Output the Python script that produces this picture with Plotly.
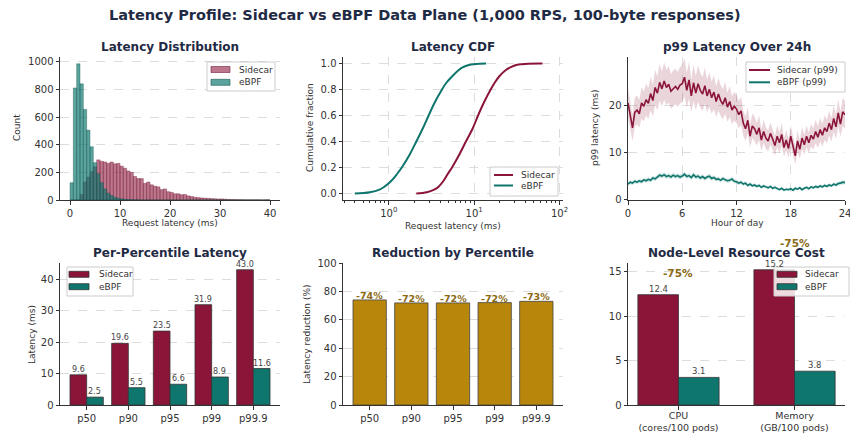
import plotly.graph_objects as go

W, H = 850, 434
FONT = "DejaVu Sans"
SIDE = "#8B1538"
EBPF = "#0F766E"
GOLD = "#B8860B"
GOLD_TXT = "#8B6914"
TITLE_C = "#1f2a44"
TXT = "#333333"
GRID = "#dcdcdc"
SIDE_HIST = "rgba(139,21,56,0.58)"
EBPF_HIST = "rgba(15,118,110,0.68)"

# ---------------- data ----------------
hist_lo, hist_hi, hist_nbins = 0.0, 40.0, 60
sidecar_counts = [0, 0, 2, 40, 130, 165, 205, 240, 290, 280,
                  275, 265, 275, 262, 265, 245, 230, 210, 200, 170,
                  155, 155, 120, 130, 110, 100, 95, 75, 80, 60,
                  55, 45, 45, 38, 40, 30, 25, 20, 17, 15,
                  13, 12, 10, 9, 7, 8, 6, 4, 3, 3,
                  2, 2, 1, 1, 1, 1, 1, 0, 1, 1]
ebpf_counts = [125, 810, 985, 840, 655, 505, 385, 270, 190, 125,
               80, 50, 32, 20, 12, 8, 5, 3, 2, 1,
               1, 0, 0, 0, 0, 0, 0, 0, 0, 0,
               0, 0, 0, 0, 0, 0, 0, 0, 0, 0,
               0, 0, 0, 0, 0, 0, 0, 0, 0, 0,
               0, 0, 0, 0, 0, 0, 0, 0, 0, 0]

cdf_fraction = [0, 0.01, 0.03, 0.05, 0.1, 0.15, 0.2, 0.3, 0.4, 0.5, 0.6,
                0.7, 0.8, 0.85, 0.9, 0.95, 0.97, 0.99, 0.995, 0.999, 1.0]
cdf_sidecar_ms = [2.1, 2.8, 3.4, 3.8, 4.4, 4.9, 5.5, 6.7, 8.0, 9.6, 11.1,
                  13.0, 15.6, 17.3, 19.6, 23.5, 26.5, 31.9, 36.0, 43.0, 63.0]
cdf_ebpf_ms = [0.40, 0.60, 0.78, 0.88, 1.08, 1.25, 1.42, 1.76, 2.10, 2.50, 2.93,
               3.45, 4.20, 4.70, 5.50, 6.60, 7.30, 8.90, 9.80, 11.6, 13.8]

hour_step = 0.25
sidecar_p99 = [20.5, 17.8, 15.2, 18.5, 19.0, 18.2, 20.5, 19.8,
               21.2, 20.4, 22.5, 21.0, 23.8, 22.6, 24.9, 23.5,
               25.2, 23.8, 24.5, 23.0, 23.6, 24.0, 23.4, 24.3,
               24.6, 26.0, 23.2, 25.4, 22.0, 24.8, 22.6, 24.6,
               23.2, 22.4, 24.2, 22.0, 23.4, 21.6, 22.8, 20.8,
               22.4, 21.0, 20.2, 21.6, 19.6, 20.8, 19.0, 19.8,
               19.2, 18.0, 18.8, 16.2, 15.0, 16.8, 13.4, 15.6,
               15.0, 13.8, 15.2, 12.6, 14.4, 13.0, 12.4, 14.0,
               12.8, 11.4, 13.4, 12.0, 13.8, 11.0, 12.6, 10.8,
               13.4, 11.6, 9.2, 12.4, 10.6, 13.0, 11.6, 13.4,
               12.0, 13.6, 12.8, 14.4, 13.2, 14.8, 13.6, 15.2,
               14.4, 16.2, 14.8, 17.2, 15.4, 18.4, 16.0, 18.6,
               18.0]
sidecar_band = [3.2, 3.0, 2.8, 3.1, 3.1, 3.0, 3.3, 3.2,
                3.4, 3.3, 3.6, 3.4, 3.8, 3.6, 3.9, 3.7,
                4.0, 3.8, 3.9, 3.7, 3.8, 3.8, 3.7, 3.9,
                3.9, 4.1, 3.7, 4.0, 3.5, 3.9, 3.6, 3.9,
                3.7, 3.6, 3.8, 3.5, 3.7, 3.4, 3.6, 3.3,
                3.5, 3.3, 3.2, 3.4, 3.1, 3.3, 3.0, 3.1,
                3.0, 2.9, 3.0, 2.7, 2.6, 2.8, 2.4, 2.6,
                2.6, 2.4, 2.6, 2.3, 2.5, 2.3, 2.2, 2.4,
                2.3, 2.1, 2.3, 2.2, 2.4, 2.0, 2.2, 2.0,
                2.3, 2.1, 1.9, 2.2, 2.0, 2.3, 2.1, 2.3,
                2.2, 2.4, 2.3, 2.5, 2.3, 2.5, 2.4, 2.6,
                2.5, 2.7, 2.5, 2.8, 2.6, 2.9, 2.7, 3.0,
                2.9]
ebpf_p99 = [3.2, 3.6, 3.4, 3.8, 3.6, 3.9, 3.7, 4.1,
            3.9, 4.2, 4.0, 4.5, 4.3, 4.8, 5.1, 4.9,
            5.2, 4.8, 5.0, 4.7, 5.1, 4.8, 5.0, 4.7,
            4.9, 5.3, 4.8, 5.0, 4.6, 5.2, 4.7, 4.9,
            4.5, 4.8, 4.4, 4.7, 4.9, 4.4, 4.6, 4.2,
            4.3, 4.0, 4.4, 4.1, 3.9, 4.0, 4.3, 3.8,
            3.7, 3.4, 3.6, 3.2, 3.4, 2.9, 3.2, 2.8,
            3.0, 2.7, 2.9, 2.5, 2.8, 2.6, 2.4, 2.7,
            2.3, 2.5, 2.2, 2.0, 2.3, 1.9, 2.1, 2.0,
            2.2, 1.9, 2.3, 2.1, 2.4, 2.0, 2.3, 2.5,
            2.2, 2.6, 2.4, 2.7, 2.5, 2.8, 2.6, 2.9,
            2.7, 3.0, 2.8, 3.2, 3.0, 3.3, 3.4, 3.6,
            3.5]
ebpf_band = [0.40, 0.42, 0.41, 0.44, 0.42, 0.45, 0.43, 0.46,
             0.44, 0.46, 0.45, 0.48, 0.47, 0.50, 0.52, 0.51,
             0.53, 0.50, 0.52, 0.49, 0.52, 0.50, 0.51, 0.49,
             0.51, 0.54, 0.50, 0.52, 0.48, 0.53, 0.49, 0.51,
             0.48, 0.50, 0.47, 0.49, 0.51, 0.47, 0.48, 0.45,
             0.46, 0.44, 0.47, 0.45, 0.43, 0.44, 0.46, 0.42,
             0.41, 0.39, 0.40, 0.37, 0.39, 0.35, 0.37, 0.34,
             0.36, 0.33, 0.35, 0.32, 0.34, 0.33, 0.31, 0.33,
             0.30, 0.32, 0.29, 0.28, 0.30, 0.27, 0.29, 0.28,
             0.29, 0.27, 0.30, 0.28, 0.31, 0.28, 0.30, 0.32,
             0.29, 0.32, 0.31, 0.33, 0.32, 0.34, 0.33, 0.35,
             0.34, 0.36, 0.35, 0.38, 0.36, 0.39, 0.40, 0.42,
             0.41]

percentiles = ["p50", "p90", "p95", "p99", "p99.9"]
pct_sidecar = [9.6, 19.6, 23.5, 31.9, 43.0]
pct_ebpf = [2.5, 5.5, 6.6, 8.9, 11.6]
reduction_pct = [74.0, 71.9, 71.9, 72.1, 73.0]

resources = ["CPU<br>(cores/100 pods)", "Memory<br>(GB/100 pods)"]
res_sidecar = [12.4, 15.2]
res_ebpf = [3.1, 3.8]
res_reduction = [75, 75]

# ---------------- helpers ----------------
def fx(px):
    return px / W

def fy(py):
    return 1 - py / H

COLS = [(60, 280), (343, 563), (628, 845)]
ROWS = [(57, 200), (263, 405)]

def xdom(c):
    return [fx(COLS[c][0]), fx(COLS[c][1])]

def ydom(r):
    return [fy(ROWS[r][1]), fy(ROWS[r][0])]

def axis(**kw):
    d = dict(showline=True, linecolor=TXT, linewidth=1, ticks="outside", ticklen=3.5,
             tickwidth=1, tickcolor=TXT, tickfont=dict(family=FONT, size=10, color=TXT),
             showgrid=False, zeroline=False, gridcolor=GRID, griddash="dash", gridwidth=0.7,
             automargin=False, mirror=False, ticklabeloverflow="allow")
    d.update(kw)
    return d

fig = go.Figure()

# ---- panel 1: histogram ----
bw = (hist_hi - hist_lo) / hist_nbins
centers = [hist_lo + bw * (i + 0.5) for i in range(len(sidecar_counts))]
fig.add_trace(go.Bar(x=centers, y=sidecar_counts, width=bw, offset=-bw / 2, name="Sidecar",
                     marker=dict(color=SIDE_HIST, line=dict(color="rgba(110,20,50,0.7)", width=0.5)),
                     xaxis="x", yaxis="y"))
fig.add_trace(go.Bar(x=centers[:len(ebpf_counts)], y=ebpf_counts, width=bw, offset=-bw / 2, name="eBPF",
                     marker=dict(color=EBPF_HIST, line=dict(color="rgba(10,80,75,0.7)", width=0.5)),
                     xaxis="x", yaxis="y"))

# ---- panel 2: CDF ----
fig.add_trace(go.Scatter(x=cdf_sidecar_ms, y=cdf_fraction, mode="lines", name="Sidecar",
                         line=dict(color=SIDE, width=2, shape="spline"), xaxis="x2", yaxis="y2"))
fig.add_trace(go.Scatter(x=cdf_ebpf_ms, y=cdf_fraction, mode="lines", name="eBPF",
                         line=dict(color=EBPF, width=2, shape="spline"), xaxis="x2", yaxis="y2"))

# ---- panel 3: time series ----
hours = [i * hour_step for i in range(len(sidecar_p99))]
s_hi = [v + b for v, b in zip(sidecar_p99, sidecar_band)]
s_lo = [v - b for v, b in zip(sidecar_p99, sidecar_band)]
e_hi = [v + b for v, b in zip(ebpf_p99, ebpf_band)]
e_lo = [v - b for v, b in zip(ebpf_p99, ebpf_band)]
fig.add_trace(go.Scatter(x=hours, y=s_hi, mode="lines", line=dict(width=0),
                         hoverinfo="skip", xaxis="x3", yaxis="y3"))
fig.add_trace(go.Scatter(x=hours, y=s_lo, mode="lines", line=dict(width=0), fill="tonexty",
                         fillcolor="rgba(139,21,56,0.18)", hoverinfo="skip", xaxis="x3", yaxis="y3"))
fig.add_trace(go.Scatter(x=hours, y=e_hi, mode="lines", line=dict(width=0),
                         hoverinfo="skip", xaxis="x3", yaxis="y3"))
fig.add_trace(go.Scatter(x=hours, y=e_lo, mode="lines", line=dict(width=0), fill="tonexty",
                         fillcolor="rgba(15,118,110,0.2)", hoverinfo="skip", xaxis="x3", yaxis="y3"))
fig.add_trace(go.Scatter(x=hours, y=sidecar_p99, mode="lines", name="Sidecar (p99)",
                         line=dict(color=SIDE, width=1.6), xaxis="x3", yaxis="y3"))
fig.add_trace(go.Scatter(x=hours, y=ebpf_p99, mode="lines", name="eBPF (p99)",
                         line=dict(color=EBPF, width=1.6), xaxis="x3", yaxis="y3"))

# ---- panel 4: per-percentile ----
fig.add_trace(go.Bar(x=percentiles, y=pct_sidecar, width=0.4, offset=-0.4, name="Sidecar",
                     marker=dict(color=SIDE, line=dict(color="#333", width=0.8)), xaxis="x4", yaxis="y4"))
fig.add_trace(go.Bar(x=percentiles, y=pct_ebpf, width=0.4, offset=0.0, name="eBPF",
                     marker=dict(color=EBPF, line=dict(color="#333", width=0.8)), xaxis="x4", yaxis="y4"))

# ---- panel 5: reduction ----
fig.add_trace(go.Bar(x=percentiles, y=reduction_pct, width=0.8, offset=-0.4, name="Reduction",
                     marker=dict(color=GOLD, line=dict(color="#444", width=0.8)), xaxis="x5", yaxis="y5"))

# ---- panel 6: resources ----
fig.add_trace(go.Bar(x=resources, y=res_sidecar, width=0.35, offset=-0.35, name="Sidecar",
                     marker=dict(color=SIDE, line=dict(color="#333", width=0.8)), xaxis="x6", yaxis="y6"))
fig.add_trace(go.Bar(x=resources, y=res_ebpf, width=0.35, offset=0.0, name="eBPF",
                     marker=dict(color=EBPF, line=dict(color="#333", width=0.8)), xaxis="x6", yaxis="y6"))

# ---------------- annotations ----------------
ann = []
shapes = []

def text(x, y, s, size=9, color=TXT, bold=False, angle=0, xanchor="center", yanchor="middle"):
    ann.append(dict(x=fx(x), y=fy(y), xref="paper", yref="paper", text=("<b>%s</b>" % s) if bold else s,
                    showarrow=False, textangle=angle, xanchor=xanchor, yanchor=yanchor,
                    font=dict(family=FONT, size=size, color=color)))

text(425, 15, "Latency Profile: Sidecar vs eBPF Data Plane (1,000 RPS, 100-byte responses)", size=14.5,
     color=TITLE_C, bold=True)
titles_top = ["Latency Distribution", "Latency CDF", "p99 Latency Over 24h"]
titles_bot = ["Per-Percentile Latency", "Reduction by Percentile", "Node-Level Resource Cost"]
for c in range(3):
    cx = (COLS[c][0] + COLS[c][1]) / 2
    text(cx, 47, titles_top[c], size=12, color=TITLE_C, bold=True)
    text(cx, 253, titles_bot[c], size=12, color=TITLE_C, bold=True)

# axis titles
text(17, 128, "Count", angle=-90)
text(170, 223, "Request latency (ms)")
text(310, 128, "Cumulative fraction", angle=-90)
text(453, 226, "Request latency (ms)")
text(595, 128, "p99 latency (ms)", angle=-90)
text(737, 223, "Hour of day")
text(32, 334, "Latency (ms)", angle=-90)
text(307, 334, "Latency reduction (%)", angle=-90)

# bar value labels (data coords)
for p, v in zip(percentiles, pct_sidecar):
    ann.append(dict(x=p, y=v, xref="x4", yref="y4", text="%.1f" % v, showarrow=False, xshift=-8.3,
                    yanchor="bottom", yshift=-1, font=dict(family=FONT, size=8, color="#444")))
for p, v in zip(percentiles, pct_ebpf):
    ann.append(dict(x=p, y=v, xref="x4", yref="y4", text="%.1f" % v, showarrow=False, xshift=8.3,
                    yanchor="bottom", yshift=-1, font=dict(family=FONT, size=8, color="#444")))
for p, v in zip(percentiles, reduction_pct):
    ann.append(dict(x=p, y=v, xref="x5", yref="y5", text="<b>-%.0f%%</b>" % v, showarrow=False,
                    yanchor="bottom", yshift=-3, font=dict(family=FONT, size=9.5, color=GOLD_TXT)))
for r, v in zip(resources, res_sidecar):
    ann.append(dict(x=r, y=v, xref="x6", yref="y6", text="%.1f" % v, showarrow=False, xshift=-20.3,
                    yanchor="bottom", yshift=-1, font=dict(family=FONT, size=8.5, color="#444")))
for r, v in zip(resources, res_ebpf):
    ann.append(dict(x=r, y=v, xref="x6", yref="y6", text="%.1f" % v, showarrow=False, xshift=20.3,
                    yanchor="bottom", yshift=-1, font=dict(family=FONT, size=8.5, color="#444")))
RES_YMAX = 15.96
for r, v, red in zip(resources, res_sidecar, res_reduction):
    ann.append(dict(x=r, y=v * 1.2 / RES_YMAX, xref="x6", yref="y6 domain", text="<b>-%d%%</b>" % red,
                    showarrow=False, yanchor="middle", font=dict(family=FONT, size=10.5, color=GOLD_TXT)))

# ---------------- legends (matplotlib-style boxes) ----------------
def legend_box(x0, y0, x1, y1, entries, sw_x0, sw_x1, text_x, kind):
    shapes.append(dict(type="rect", xref="paper", yref="paper", x0=fx(x0), x1=fx(x1), y0=fy(y1), y1=fy(y0),
                       fillcolor="rgba(255,255,255,0.85)", line=dict(color="#cccccc", width=1), layer="above"))
    for (label, color, edge), yc in entries:
        if kind == "patch":
            shapes.append(dict(type="rect", xref="paper", yref="paper", x0=fx(sw_x0), x1=fx(sw_x1),
                               y0=fy(yc + 3), y1=fy(yc - 3), fillcolor=color,
                               line=dict(color=edge, width=0.8), layer="above"))
        else:
            shapes.append(dict(type="line", xref="paper", yref="paper", x0=fx(sw_x0), x1=fx(sw_x1),
                               y0=fy(yc), y1=fy(yc), line=dict(color=color, width=2), layer="above"))
        text(text_x, yc, label, size=9, xanchor="left")

legend_box(207, 62, 275, 91,
           [(("Sidecar", SIDE_HIST, "rgba(110,20,50,0.7)"), 69.5), (("eBPF", EBPF_HIST, "rgba(10,80,75,0.7)"), 82.3)],
           211, 230, 237, "patch")
legend_box(490, 167, 558, 196,
           [(("Sidecar", SIDE, None), 175), (("eBPF", EBPF, None), 185.5)],
           494, 513, 519, "line")
legend_box(746, 62, 845, 92,
           [(("Sidecar (p99)", SIDE, None), 70), (("eBPF (p99)", EBPF, None), 82.3)],
           749, 770, 775, "line")
legend_box(67, 267, 133, 296,
           [(("Sidecar", SIDE, "#333"), 274.3), (("eBPF", EBPF, "#333"), 286.7)],
           69, 89, 97, "patch")
legend_box(774, 267, 849, 296,
           [(("Sidecar", SIDE, "#333"), 274.3), (("eBPF", EBPF, "#333"), 286.7)],
           777, 797, 803, "patch")

layout = dict(
    template="none",
    width=W, height=H, margin=dict(l=0, r=0, t=0, b=0, pad=0),
    paper_bgcolor="white", plot_bgcolor="white",
    barmode="overlay", showlegend=False,
    font=dict(family=FONT, size=10, color=TXT),
    annotations=ann, shapes=shapes,
    xaxis=axis(domain=xdom(0), anchor="y", range=[-2, 42], tickvals=[0, 10, 20, 30, 40]),
    yaxis=axis(domain=ydom(0), anchor="x", range=[0, 1034], tickvals=[0, 200, 400, 600, 800, 1000],
               showgrid=True),
    xaxis2=axis(domain=xdom(1), anchor="y2", type="log", range=[-0.536, 2.04], tickvals=[1, 10, 100],
                ticktext=["10<sup>0</sup>", "10<sup>1</sup>", "10<sup>2</sup>"], showgrid=True,
                minor=dict(ticks="outside", ticklen=2, tickcolor=TXT,
                           tickvals=[0.3, 0.4, 0.5, 0.6, 0.7, 0.8, 0.9, 2, 3, 4, 5, 6, 7, 8, 9,
                                     20, 30, 40, 50, 60, 70, 80, 90], showgrid=False)),
    yaxis2=axis(domain=ydom(0), anchor="x2", range=[-0.05, 1.05], tickvals=[0, 0.2, 0.4, 0.6, 0.8, 1.0],
                tickformat=".1f", showgrid=True),
    xaxis3=axis(domain=xdom(2), anchor="y3", range=[0, 24], tickvals=[0, 6, 12, 18, 24], showgrid=True),
    yaxis3=axis(domain=ydom(0), anchor="x3", range=[-0.2, 30.3], tickvals=[0, 10, 20], showgrid=True),
    xaxis4=axis(domain=xdom(0), anchor="y4", type="category", range=[-0.64, 4.64]),
    yaxis4=axis(domain=ydom(1), anchor="x4", range=[0, 45.15], tickvals=[0, 10, 20, 30, 40], showgrid=True),
    xaxis5=axis(domain=xdom(1), anchor="y5", type="category", range=[-0.64, 4.64]),
    yaxis5=axis(domain=ydom(1), anchor="x5", range=[0, 100], tickvals=[0, 20, 40, 60, 80, 100],
                showgrid=True),
    xaxis6=axis(domain=xdom(2), anchor="y6", type="category", range=[-0.435, 1.435],
                tickfont=dict(family=FONT, size=9.5, color=TXT), ticklabelstandoff=-2),
    yaxis6=axis(domain=ydom(1), anchor="x6", range=[0, RES_YMAX], tickvals=[0, 5, 10, 15], showgrid=True),
)
fig.update_layout(**layout)
fig.write_html("out.html", config={"displayModeBar": False},
               post_script="document.body.style.margin='0';document.body.style.padding='0';"
                           "document.documentElement.style.overflow='hidden';")
